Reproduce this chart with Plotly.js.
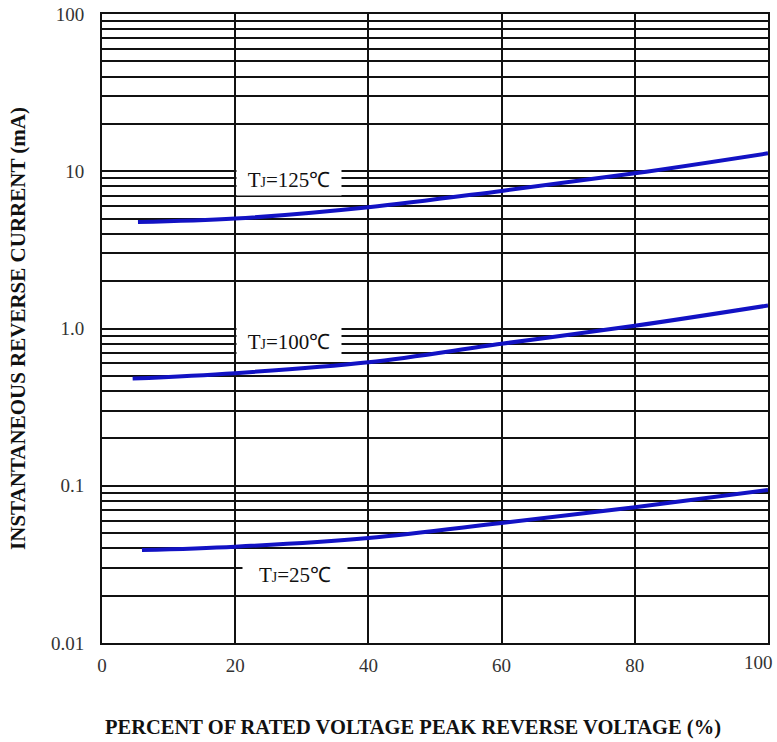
<!DOCTYPE html>
<html><head><meta charset="utf-8">
<script src="https://cdn.plot.ly/plotly-3.0.1.min.js"></script>
<style>body{margin:0;background:#fff}#c{width:777px;height:742px}</style>
</head><body><div id="c"></div>
<script>
// Data
const pct125 = [5.4, 20, 40, 60, 80, 100];
const cur125 = [4.75, 5.0, 5.9, 7.5, 9.7, 13.0];
const pct100 = [4.6, 20, 40, 60, 80, 100];
const cur100 = [0.48, 0.52, 0.61, 0.80, 1.04, 1.40];
const pct25 = [6.0, 20, 40, 60, 80, 100];
const cur25 = [0.039, 0.041, 0.0466, 0.058, 0.073, 0.094];
const labels = ["TJ=125℃", "TJ=100℃", "TJ=25℃"];
const xTicks = [0, 20, 40, 60, 80, 100];
const xTickText = ["0", "20", "40", "60", "80", "100"];
const yDecades = [0.01, 0.1, 1, 10, 100];
const yDecadeText = ["0.01", "0.1", "1.0", "10", "100"];
const xTitle = "PERCENT OF RATED VOLTAGE PEAK REVERSE VOLTAGE (%)";
const yTitle = "INSTANTANEOUS REVERSE CURRENT (mA)";

const yVals = [], yText = [];
yDecades.forEach((d, i) => {
  if (i < yDecades.length - 1) {
    for (let m = 1; m <= 9; m++) {
      yVals.push(+(d * m).toPrecision(3));
      yText.push(m === 1 ? yDecadeText[i] : "");
    }
  } else { yVals.push(d); yText.push(yDecadeText[i]); }
});

const lineStyle = {color: '#1212c4', width: 4, shape: 'spline', smoothing: 1};
const traces = [
  {x: pct125, y: cur125, mode: 'lines', line: lineStyle, hoverinfo: 'skip'},
  {x: pct100, y: cur100, mode: 'lines', line: lineStyle, hoverinfo: 'skip'},
  {x: pct25, y: cur25, mode: 'lines', line: lineStyle, hoverinfo: 'skip'}
];

const tickFont = {family: 'Liberation Serif', size: 19, color: '#333'};

function lab(t) { return 'T<span style="font-size:14px">J</span>' + t.slice(2); }
const labPos = [[28.1, 8.8], [28.1, 0.82], [29.0, 0.027]];
const annotations = labels.map((t, i) => ({
  x: labPos[i][0], y: Math.log10(labPos[i][1]), xref: 'x', yref: 'y',
  text: lab(t), showarrow: false, bgcolor: '#ffffff',
  font: {family: 'Liberation Serif', size: 21, color: '#111'},
  borderpad: 3, width: 98
}));
// last x tick label sits inside the window
annotations.push({
  x: xTicks[xTicks.length - 1], y: 0, xref: 'x', yref: 'paper',
  text: xTickText[xTickText.length - 1], showarrow: false,
  xanchor: 'center', xshift: -10, yanchor: 'top', yshift: -7, font: tickFont
});
// x axis title, placed as in the reference (slightly left of centre)
annotations.push({
  x: 0.467, y: 0, xref: 'paper', yref: 'paper', showarrow: false,
  xanchor: 'center', yanchor: 'middle', yshift: -84,
  text: '<b>' + xTitle + '</b>',
  font: {family: 'Liberation Serif', size: 20.5, color: '#111'}
});

const layout = {
  width: 777, height: 742,
  margin: {l: 102, r: 9, t: 14, b: 99},
  paper_bgcolor: '#fff', plot_bgcolor: '#fff',
  showlegend: false,
  font: {family: 'Liberation Serif', color: '#222'},
  xaxis: {
    range: [0, 100], tickvals: xTicks,
    ticktext: xTickText.map((s, i) => i === xTickText.length - 1 ? '' : s),
    ticks: '', showgrid: true, ticklabelstandoff: 4,
    gridcolor: '#111', gridwidth: 2, zeroline: false,
    showline: true, mirror: true, linecolor: '#111', linewidth: 2,
    tickfont: tickFont
  },
  yaxis: {
    type: 'log', range: [-2, 2], tickvals: yVals, ticktext: yText, ticks: '',
    ticklabelstandoff: 12,
    showgrid: true, gridcolor: '#111', gridwidth: 2, zeroline: false,
    showline: true, mirror: true, linecolor: '#111', linewidth: 2,
    tickfont: tickFont,
    title: {text: '<b>' + yTitle + '</b>',
            font: {family: 'Liberation Serif', size: 21, color: '#111'}, standoff: 20}
  },
  annotations: annotations
};
Plotly.newPlot('c', traces, layout, {staticPlot: true});
</script></body></html>
